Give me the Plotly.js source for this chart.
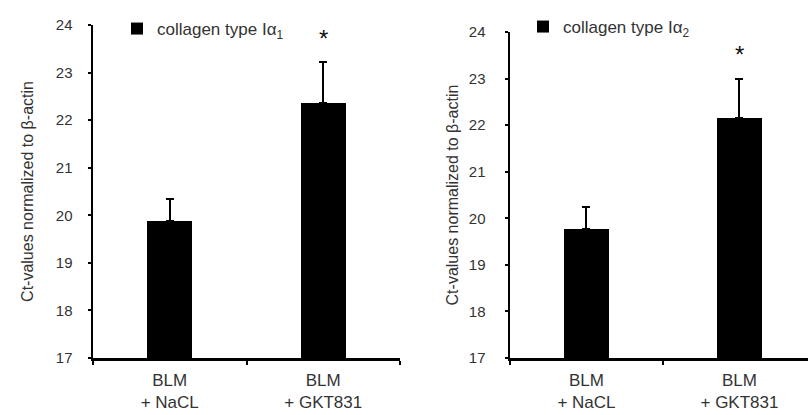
<!DOCTYPE html>
<html><head><meta charset="utf-8">
<script src="https://cdn.plot.ly/plotly-3.0.1.min.js"></script>
<style>html,body{margin:0;padding:0;background:#fff}#chart{width:808px;height:415px}</style>
</head><body><div id="chart"></div>
<script>
const categories = ["BLM<br>+ NaCL", "BLM<br>+ GKT831"];
const alpha1Values = [19.88, 22.36];
const alpha1Errors = [0.47, 0.86];
const alpha2Values = [19.77, 22.15];
const alpha2Errors = [0.47, 0.85];
const yTicks = [17, 18, 19, 20, 21, 22, 23, 24];
const starY = [23.72, 23.52];

const fam = "Liberation Sans, Arial, sans-serif";
const tickFont = {family: fam, size: 15, color: "#333"};
const xFont = {family: fam, size: 17, color: "#333"};
const titleFont = {family: fam, size: 16, color: "#333"};
const legendFont = {family: fam, size: 17, color: "#333"};

const traces = [
  {type: "bar", x: categories, y: alpha1Values, xaxis: "x", yaxis: "y",
   name: "collagen type Iα<sub>1</sub>", legend: "legend", showlegend: true,
   marker: {color: "#000"}, width: 0.29,
   error_y: {type: "data", array: alpha1Errors, arrayminus: [0, 0], symmetric: false, color: "#000", thickness: 2, width: 4}},
  {type: "bar", x: categories, y: alpha2Values, xaxis: "x2", yaxis: "y2",
   name: "collagen type Iα<sub>2</sub>", legend: "legend2", showlegend: true,
   marker: {color: "#000"}, width: 0.29,
   error_y: {type: "data", array: alpha2Errors, arrayminus: [0, 0], symmetric: false, color: "#000", thickness: 2, width: 4}}
];

const xCommon = {type: "category", showline: true, linecolor: "#000", linewidth: 2.5,
  ticks: "outside", tickson: "boundaries", ticklen: 4, tickwidth: 2, tickcolor: "#000",
  showgrid: false, zeroline: false, tickfont: xFont, ticklabelstandoff: 5};
const yCommon = {range: [17, 24], tickvals: yTicks, showline: true, linecolor: "#000", linewidth: 2.5,
  ticks: "outside", ticklen: 3, tickwidth: 2, tickcolor: "#000", showgrid: false, zeroline: false,
  tickfont: tickFont};

const layout = {
  width: 808, height: 415, margin: {l: 0, r: 0, t: 0, b: 0},
  paper_bgcolor: "#fff", plot_bgcolor: "#fff", font: tickFont,
  showlegend: true, bargap: 0,
  xaxis: Object.assign({}, xCommon, {domain: [93/808, 400/808], range: [-0.5, 1.5], anchor: "y"}),
  yaxis: Object.assign({}, yCommon, {domain: [1 - 358/415, 1 - 25/415], anchor: "x",
    ticklabelstandoff: 12,
    title: {text: "Ct-values normalized to β-actin", font: titleFont, standoff: 18}}),
  xaxis2: Object.assign({}, xCommon, {domain: [510/808, 1], range: [-0.5, 1.448], anchor: "y2"}),
  yaxis2: Object.assign({}, yCommon, {domain: [1 - 358/415, 1 - 32/415], anchor: "x2",
    ticklabelstandoff: 16,
    title: {text: "Ct-values normalized to β-actin", font: titleFont, standoff: 6}}),
  legend: {x: 117/808, y: 1 - 11/415, xanchor: "left", yanchor: "top", bgcolor: "rgba(0,0,0,0)", font: legendFont},
  legend2: {x: 523/808, y: 1 - 9/415, xanchor: "left", yanchor: "top", bgcolor: "rgba(0,0,0,0)", font: legendFont},
  annotations: [
    {xref: "x", yref: "y", x: categories[1], y: starY[0], text: "*", showarrow: false,
     font: {family: fam, size: 24, color: "#111"}},
    {xref: "x2", yref: "y2", x: categories[1], y: starY[1], text: "*", showarrow: false,
     font: {family: fam, size: 24, color: "#111"}}
  ]
};

Plotly.newPlot("chart", traces, layout, {displayModeBar: false, staticPlot: true});
</script></body></html>
